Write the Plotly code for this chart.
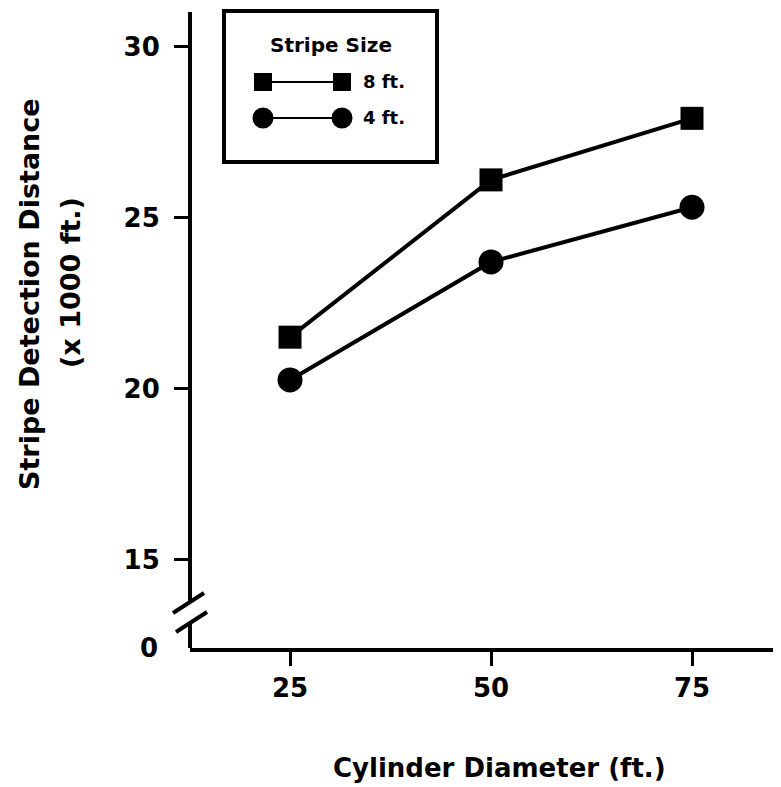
import plotly.graph_objects as go

# ---- data ----
diameter = [25, 50, 75]
dist_8ft = [21.5, 26.1, 27.9]
dist_4ft = [20.25, 23.7, 25.3]
y_ticks = [15, 20, 25, 30]
y_break_label = "0"
x_ticks = [25, 50, 75]

# page is offset by the 8px body margin; figure sized to fit the window
OFF = 8
W, H = 781 - OFF, 787 - OFF
L, R, T, B = 190 - OFF, 0, 12 - OFF, 139
PW, PH = W - L - R, H - T - B
FONT = "DejaVu Sans"
BLACK = "#000000"

def px(x):  # page pixel -> paper x
    return (x - OFF - L) / PW

def py(y):  # page pixel -> paper y
    return (H - B - (y - OFF)) / PH

Y_MIN, Y_MAX = 12.41, 31.01

fig = go.Figure()
fig.add_trace(go.Scatter(x=diameter, y=dist_8ft, mode="lines+markers", name="8 ft.",
                         line=dict(color=BLACK, width=4),
                         marker=dict(symbol="square", size=23, color=BLACK)))
fig.add_trace(go.Scatter(x=diameter, y=dist_4ft, mode="lines+markers", name="4 ft.",
                         line=dict(color=BLACK, width=4),
                         marker=dict(symbol="circle", size=25, color=BLACK)))

shapes = []
# y axis (broken)
shapes.append(dict(type="line", xref="paper", yref="paper", x0=0, x1=0, y0=1.0, y1=py(603),
                   line=dict(color=BLACK, width=4)))
shapes.append(dict(type="line", xref="paper", yref="paper", x0=0, x1=0, y0=py(622), y1=0,
                   line=dict(color=BLACK, width=4)))
shapes.append(dict(type="line", xref="paper", yref="paper", x0=px(173), x1=px(204), y0=py(613), y1=py(593),
                   line=dict(color=BLACK, width=4)))
shapes.append(dict(type="line", xref="paper", yref="paper", x0=px(176), x1=px(207), y0=py(632), y1=py(612),
                   line=dict(color=BLACK, width=4)))
# legend box
shapes.append(dict(type="rect", xref="paper", yref="paper", x0=px(224), x1=px(437), y0=py(11), y1=py(162),
                   line=dict(color=BLACK, width=4), fillcolor="white", layer="above"))
# legend symbols
for yrow, sym in [(82, "square"), (118, "circle")]:
    shapes.append(dict(type="line", xref="paper", yref="paper", x0=px(263), x1=px(342), y0=py(yrow), y1=py(yrow),
                       line=dict(color=BLACK, width=2), layer="above"))
    for xc in (263, 342):
        s = 18 if sym == "square" else 21
        shapes.append(dict(type="rect" if sym == "square" else "circle", xref="paper", yref="paper",
                           xsizemode="pixel", ysizemode="pixel", xanchor=px(xc), yanchor=py(yrow),
                           x0=-s / 2, x1=s / 2, y0=-s / 2, y1=s / 2,
                           line=dict(color=BLACK, width=0), fillcolor=BLACK, layer="above"))

annotations = [
    dict(text="<b>Stripe Size</b>", xref="paper", yref="paper", x=px(331), y=py(45), showarrow=False,
         font=dict(family=FONT, size=20, color=BLACK), xanchor="center", yanchor="middle"),
    dict(text="<b>8 ft.</b>", xref="paper", yref="paper", x=px(361), y=py(82), showarrow=False,
         font=dict(family=FONT, size=18, color=BLACK), xanchor="left", yanchor="middle"),
    dict(text="<b>4 ft.</b>", xref="paper", yref="paper", x=px(361), y=py(118), showarrow=False,
         font=dict(family=FONT, size=18, color=BLACK), xanchor="left", yanchor="middle"),
    dict(text="<b>" + y_break_label + "</b>", xref="paper", yref="y", x=px(160), y=Y_MIN, showarrow=False,
         font=dict(family=FONT, size=26, color=BLACK), xanchor="right", yanchor="middle"),
    dict(text="<b>Cylinder Diameter (ft.)</b>", xref="paper", yref="paper", x=px(499), y=py(768),
         showarrow=False, font=dict(family=FONT, size=26, color=BLACK), xanchor="center", yanchor="middle"),
    dict(text="<b>Stripe Detection Distance</b>", xref="paper", yref="paper", x=px(29), y=py(294),
         showarrow=False, textangle=-90, font=dict(family=FONT, size=27, color=BLACK),
         xanchor="center", yanchor="middle"),
    dict(text="<b>(x 1000 ft.)</b>", xref="paper", yref="paper", x=px(70), y=py(283),
         showarrow=False, textangle=-90, font=dict(family=FONT, size=27, color=BLACK),
         xanchor="center", yanchor="middle"),
]

fig.update_layout(
    width=W, height=H, margin=dict(l=L, r=R, t=T, b=B),
    paper_bgcolor="white", plot_bgcolor="white", showlegend=False,
    shapes=shapes, annotations=annotations,
    font=dict(family=FONT, size=26, color=BLACK, weight="bold"),
    xaxis=dict(range=[12.56, 86.07], tickvals=x_ticks, ticktext=[f"<b>{v}</b>" for v in x_ticks],
               showline=True, linewidth=4, linecolor=BLACK, ticks="outside", ticklen=14, tickwidth=3,
               tickcolor=BLACK, showgrid=False, zeroline=False, ticklabelstandoff=0),
    yaxis=dict(range=[Y_MIN, Y_MAX], tickvals=y_ticks, ticktext=[f"<b>{v}</b>" for v in y_ticks],
               showline=False, ticks="outside", ticklen=15, tickwidth=3, tickcolor=BLACK,
               showgrid=False, zeroline=False, ticklabelstandoff=9),
)

fig.write_html("out.html")
